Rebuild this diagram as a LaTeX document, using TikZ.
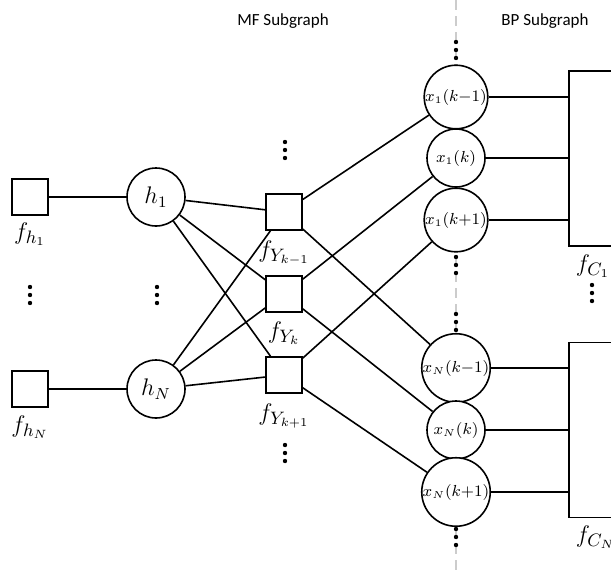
\documentclass[tikz,border=0pt]{standalone}
\usepackage{fontspec}
\newfontfamily\hdrfont{Carlito}
\begin{document}
\begin{tikzpicture}[x=0.5pt,y=-0.5pt,line width=0.8pt,
  var/.style={circle,draw,fill=white,minimum size=29pt,inner sep=0pt,font=\fontsize{12}{14}\selectfont},
  xvar/.style={var,font=\fontsize{7.8}{9}\selectfont},
  fac/.style={rectangle,draw,fill=white,minimum size=18pt,inner sep=0pt},
  bigfac/.style={rectangle,draw,minimum width=40pt,minimum height=87.5pt,inner sep=0pt},
  lbl/.style={font=\fontsize{13}{15}\selectfont,inner sep=0pt,anchor=base},
  hdr/.style={font=\hdrfont\fontsize{8.5}{10}\selectfont,inner sep=0pt},
  dotcol/.pic={\fill (0,-8) circle[radius=1.1pt] (0,0) circle[radius=1.1pt] (0,8) circle[radius=1.1pt];}]
\clip (0,0) rectangle (611,574);
% dashed separator
\coordinate (septop) at (456,0);
\coordinate (sepbot) at (456,574);
\draw[gray!40,line width=0.6pt,dash pattern=on 5pt off 3pt] (septop) -- (sepbot);
% headers
\node[hdr] (mf) at (283,21) {MF Subgraph};
\node[hdr] (bp) at (545,21) {BP Subgraph};
% left factors
\node[fac] (fh1) at (30,197) {};
\node[fac] (fhN) at (30,389) {};
\node[lbl] (lfh1) at (30,239) {$f_{h_1}$};
\node[lbl] (lfhN) at (30,432) {$f_{h_N}$};
% h variables
\node[var] (h1) at (156,197) {$h_1$};
\node[var] (hN) at (156,389) {$h_N$};
% Y factors
\node[fac] (fya) at (284,212) {};
\node[fac] (fyb) at (284,294) {};
\node[fac] (fyc) at (284,375) {};
\node[lbl] (lfya) at (284,257) {$f_{Y_{k-1}}$};
\node[lbl] (lfyb) at (284,338) {$f_{Y_k}$};
\node[lbl] (lfyc) at (284,420) {$f_{Y_{k+1}}$};
% x variables
\node[xvar] (x1a) at (456,97) {$x_1(k{-}1)$};
\node[xvar] (x1b) at (456,158) {$x_1(k)$};
\node[xvar] (x1c) at (456,220) {$x_1(k{+}1)$};
\node[xvar] (xNa) at (456,368) {$x_N(k{-}1)$};
\node[xvar] (xNb) at (456,430) {$x_N(k)$};
\node[xvar] (xNc) at (456,492) {$x_N(k{+}1)$};
% constraint factors
\node[bigfac] (fC1) at (609,158.5) {};
\node[bigfac] (fCN) at (609,430) {};
\node[lbl,anchor=base west] (lfC1) at (575,271) {$f_{C_1}$};
\node[lbl,anchor=base west] (lfCN) at (575,542) {$f_{C_N}$};
% dots
\pic at (30,295) {dotcol};
\pic at (157,295) {dotcol};
\pic at (285,150) {dotcol};
\pic at (285,453) {dotcol};
\pic at (456,50) {dotcol};
\pic at (456,265) {dotcol};
\pic at (456,322) {dotcol};
\pic at (456,537) {dotcol};
\pic at (592,293) {dotcol};
% edges
\draw (fh1) -- (h1);
\draw (fhN) -- (hN);
\foreach \y in {fya,fyb,fyc}{
  \draw (h1) -- (\y);
  \draw (hN) -- (\y);
}
\draw (fya) -- (x1a); \draw (fya) -- (xNa);
\draw (fyb) -- (x1b); \draw (fyb) -- (xNb);
\draw (fyc) -- (x1c); \draw (fyc) -- (xNc);
\foreach \v in {x1a,x1b,x1c}{ \draw (\v) -- (\v -| fC1.west); }
\foreach \v in {xNa,xNb,xNc}{ \draw (\v) -- (\v -| fCN.west); }
\end{tikzpicture}
\end{document}
